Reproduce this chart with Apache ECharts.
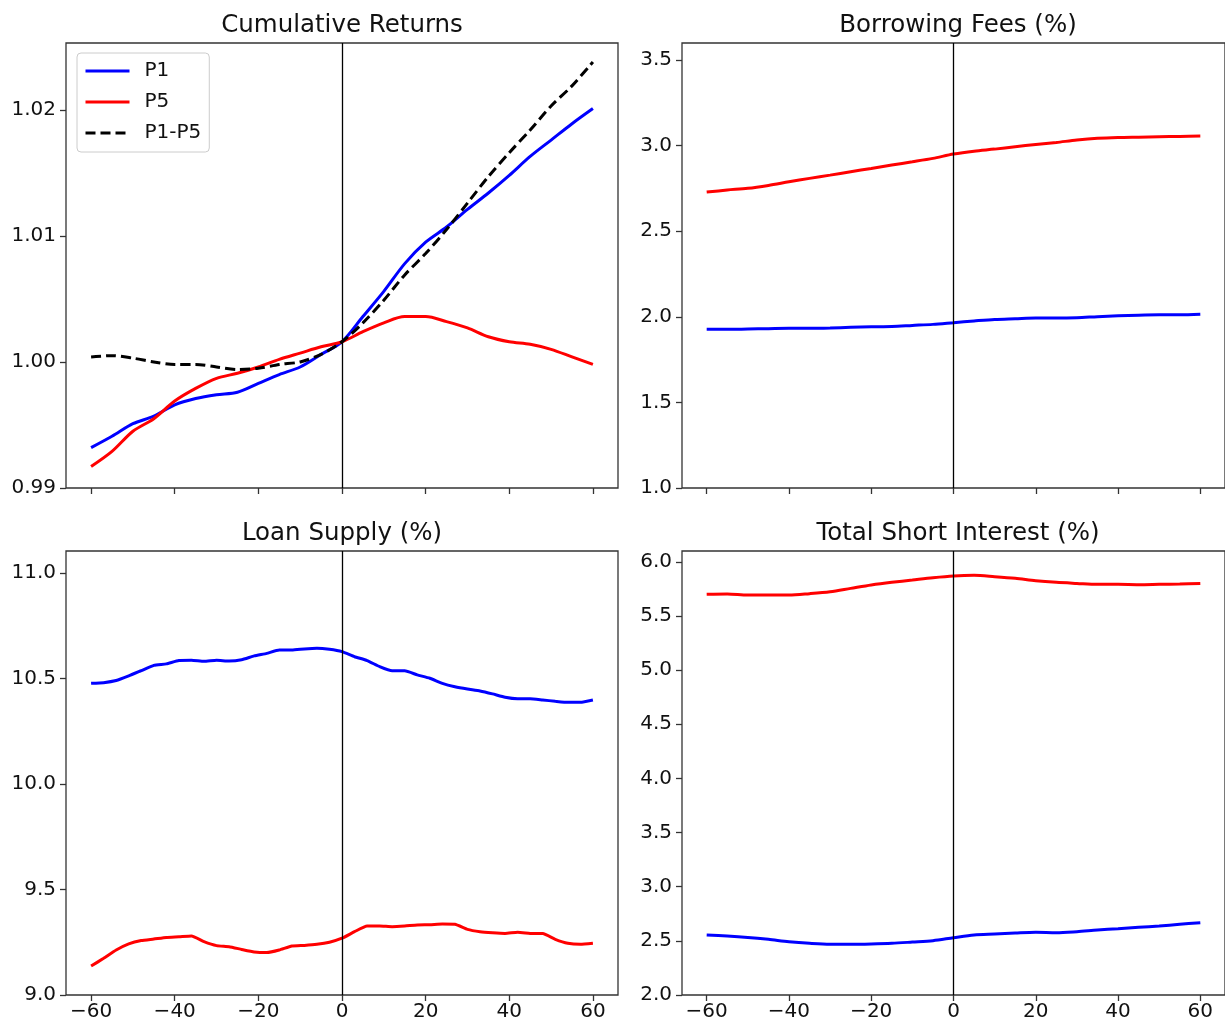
<!DOCTYPE html>
<html>
<head>
<meta charset="utf-8">
<script src="https://cdn.jsdelivr.net/npm/echarts@6/dist/echarts.min.js"></script>
<style>
  html, body { margin: 0; padding: 0; background: #ffffff; }
  #chart { width: 1225px; height: 1023px; }
</style>
</head>
<body>
<div id="chart"></div>
<script>
// Event-time axis (days relative to event date)
const days5 = [-60, -55, -50, -45, -40, -35, -30, -25, -20, -15, -10, -5, 0,
               5, 10, 15, 20, 25, 30, 35, 40, 45, 50, 55, 60];
const days3 = [-60, -57, -54, -51, -48, -45, -42, -39, -36, -33, -30, -27, -24, -21,
               -18, -15, -12, -9, -6, -3, 0, 3, 6, 9, 12, 15, 18, 21, 24, 27, 30,
               33, 36, 39, 42, 45, 48, 51, 54, 57, 60];

// Cumulative returns
const cumP1 = [0.9932, 0.9941, 0.9951, 0.9957, 0.9966, 0.9971, 0.9974, 0.9976, 0.9983,
               0.9990, 0.9996, 1.0006, 1.0016, 1.0036, 1.0056, 1.0078, 1.0095, 1.0107,
               1.0121, 1.0134, 1.0148, 1.0163, 1.0176, 1.0189, 1.0201];
const cumP5 = [0.9917, 0.9929, 0.9945, 0.9955, 0.9969, 0.9979, 0.9987, 0.9991, 0.9996,
               1.0002, 1.0007, 1.0012, 1.0016, 1.0024, 1.0031, 1.0036, 1.0036, 1.0032,
               1.0027, 1.0020, 1.0016, 1.0014, 1.0010, 1.0004, 0.9998];
const cumSpread = [1.0004, 1.0005, 1.0003, 1.0000, 0.9998, 0.9998, 0.9996, 0.9994, 0.9995,
                   0.9998, 1.0000, 1.0006, 1.0016, 1.0031, 1.0049, 1.0069, 1.0086, 1.0105,
                   1.0126, 1.0147, 1.0166, 1.0184, 1.0203, 1.0219, 1.0238];

// Borrowing fees (%)
const feeP1 = [1.927, 1.927, 1.929, 1.931, 1.933, 1.933, 1.935, 1.939, 1.942, 1.944, 1.950,
               1.956, 1.966, 1.976, 1.985, 1.989, 1.993, 1.993, 1.995, 2.001, 2.006, 2.010,
               2.012, 2.012, 2.015];
const feeP5 = [2.729, 2.741, 2.751, 2.768, 2.789, 2.809, 2.828, 2.848, 2.867, 2.887, 2.906,
               2.926, 2.951, 2.968, 2.980, 2.994, 3.007, 3.019, 3.033, 3.043, 3.048, 3.050,
               3.052, 3.054, 3.056];

// Loan supply (%)
const lsP1 = [10.477, 10.480, 10.490, 10.512, 10.537, 10.562, 10.569, 10.585, 10.586, 10.581,
              10.586, 10.583, 10.589, 10.607, 10.619, 10.635, 10.635, 10.640, 10.643, 10.638,
              10.627, 10.603, 10.585, 10.556, 10.536, 10.536, 10.517, 10.501, 10.477, 10.461,
              10.450, 10.441, 10.427, 10.411, 10.404, 10.404, 10.398, 10.392, 10.387, 10.387,
              10.398];
const lsP5 = [9.137, 9.174, 9.213, 9.242, 9.258, 9.265, 9.273, 9.276, 9.280, 9.253, 9.234,
              9.229, 9.216, 9.204, 9.201, 9.213, 9.232, 9.235, 9.240, 9.250, 9.269, 9.300,
              9.327, 9.327, 9.324, 9.327, 9.332, 9.333, 9.336, 9.335, 9.311, 9.300, 9.295,
              9.292, 9.297, 9.292, 9.291, 9.264, 9.245, 9.240, 9.245];

// Total short interest (%)
const siP1 = [2.554, 2.545, 2.532, 2.514, 2.492, 2.477, 2.468, 2.468, 2.471, 2.477, 2.489,
              2.502, 2.529, 2.554, 2.563, 2.572, 2.579, 2.575, 2.585, 2.600, 2.612, 2.625,
              2.637, 2.653, 2.668];
const siP5 = [5.700, 5.703, 5.693, 5.693, 5.693, 5.706, 5.724, 5.755, 5.786, 5.811, 5.832,
              5.853, 5.869, 5.875, 5.863, 5.848, 5.826, 5.811, 5.801, 5.792, 5.792, 5.789,
              5.792, 5.795, 5.801];

// Tick positions
const xTicks = [-60, -40, -20, 0, 20, 40, 60];
const cumTicks = [0.99, 1.00, 1.01, 1.02];
const feeTicks = [1.0, 1.5, 2.0, 2.5, 3.0, 3.5];
const lsTicks = [9.0, 9.5, 10.0, 10.5, 11.0];
const siTicks = [2.0, 2.5, 3.0, 3.5, 4.0, 4.5, 5.0, 5.5, 6.0];

const panelTitles = ['Cumulative Returns', 'Borrowing Fees (%)', 'Loan Supply (%)', 'Total Short Interest (%)'];

const FONT = 'DejaVu Sans';
const BLUE = '#0000ff', RED = '#ff0000', BLACK = '#000000';
const LW = 3;
const TICK_FS = 20;

const zip = (xs, ys) => xs.map((x, i) => [x, ys[i]]);

const grids = [
  { left: 66,  top: 43,  width: 552, height: 445 },
  { left: 682, top: 43,  width: 552, height: 445 },
  { left: 66,  top: 551, width: 552, height: 444 },
  { left: 682, top: 551, width: 552, height: 444 }
].map(g => Object.assign(g, {
  show: true, borderColor: '#333333', borderWidth: 1.3, backgroundColor: 'transparent'
}));

function xAxisFor(gridIndex, showLabels) {
  return {
    type: 'value', gridIndex, min: -66, max: 66,
    axisLine: { show: false, onZero: false },
    splitLine: { show: false },
    axisTick: { show: true, customValues: xTicks, length: 6, lineStyle: { color: '#333333', width: 1.3 } },
    axisLabel: {
      show: showLabels, customValues: xTicks, fontSize: TICK_FS, fontFamily: FONT, color: '#111111', margin: 7,
      formatter: v => (v < 0 ? '\u2212' + Math.abs(v) : String(v))
    }
  };
}

function yAxisFor(gridIndex, min, max, ticks, digits) {
  return {
    type: 'value', gridIndex, min, max,
    axisLine: { show: false, onZero: false },
    splitLine: { show: false },
    axisTick: { show: true, customValues: ticks, length: 6, lineStyle: { color: '#333333', width: 1.3 } },
    axisLabel: {
      customValues: ticks, fontSize: TICK_FS, fontFamily: FONT, color: '#111111', margin: 10,
      formatter: v => Number(v).toFixed(digits)
    }
  };
}

function line(name, idx, xs, ys, color, opts) {
  return Object.assign({
    name, type: 'line', xAxisIndex: idx, yAxisIndex: idx,
    data: zip(xs, ys), showSymbol: false, symbol: 'none', smooth: 0.3,
    lineStyle: { color, width: LW, type: 'solid' },
    itemStyle: { color },
    z: 3
  }, opts || {});
}

// vertical reference line at the event date
function eventLine() {
  return {
    silent: true, symbol: ['none', 'none'], animation: false,
    label: { show: false },
    lineStyle: { color: BLACK, width: 1.3, type: 'solid' },
    data: [{ xAxis: 0 }]
  };
}

const option = {
  animation: false,
  backgroundColor: '#ffffff',
  textStyle: { fontFamily: FONT },
  title: panelTitles.map((t, i) => ({
    text: t,
    left: [342, 958, 342, 958][i],
    top: [13, 13, 521, 521][i],
    textAlign: 'center',
    padding: 0,
    textStyle: { fontSize: 24.5, fontWeight: 'normal', color: '#111111', fontFamily: FONT }
  })),
  legend: {
    orient: 'vertical', left: 77, top: 53,
    padding: [8, 8, 9, 7],
    data: ['P1', 'P5', 'P1-P5'],
    itemWidth: 44, itemHeight: 20, itemGap: 11,
    itemStyle: { opacity: 0, borderWidth: 0 },
    lineStyle: { width: LW },
    backgroundColor: 'rgba(255,255,255,0.8)',
    borderColor: '#cccccc', borderWidth: 1, borderRadius: 4,
    textStyle: { fontSize: TICK_FS, fontFamily: FONT, color: '#111111', lineHeight: 20, padding: [0, 0, 0, 10] }
  },
  grid: grids,
  xAxis: [xAxisFor(0, false), xAxisFor(1, false), xAxisFor(2, true), xAxisFor(3, true)],
  yAxis: [
    yAxisFor(0, 0.99, 1.0253, cumTicks, 2),
    yAxisFor(1, 1.0, 3.6, feeTicks, 1),
    yAxisFor(2, 9.0, 11.104, lsTicks, 1),
    yAxisFor(3, 2.0, 6.1, siTicks, 1)
  ],
  series: [
    line('P1', 0, days5, cumP1, BLUE, { markLine: eventLine() }),
    line('P5', 0, days5, cumP5, RED),
    line('P1-P5', 0, days5, cumSpread, BLACK, { lineStyle: { color: BLACK, width: LW, type: [10, 5] } }),

    line('P1', 1, days5, feeP1, BLUE, { markLine: eventLine() }),
    line('P5', 1, days5, feeP5, RED),

    line('P1', 2, days3, lsP1, BLUE, { smooth: 0.15, markLine: eventLine() }),
    line('P5', 2, days3, lsP5, RED, { smooth: 0.15 }),

    line('P1', 3, days5, siP1, BLUE, { markLine: eventLine() }),
    line('P5', 3, days5, siP5, RED)
  ]
};

const chart = echarts.init(document.getElementById('chart'), null, { renderer: 'canvas' });
chart.setOption(option);
</script>
</body>
</html>
